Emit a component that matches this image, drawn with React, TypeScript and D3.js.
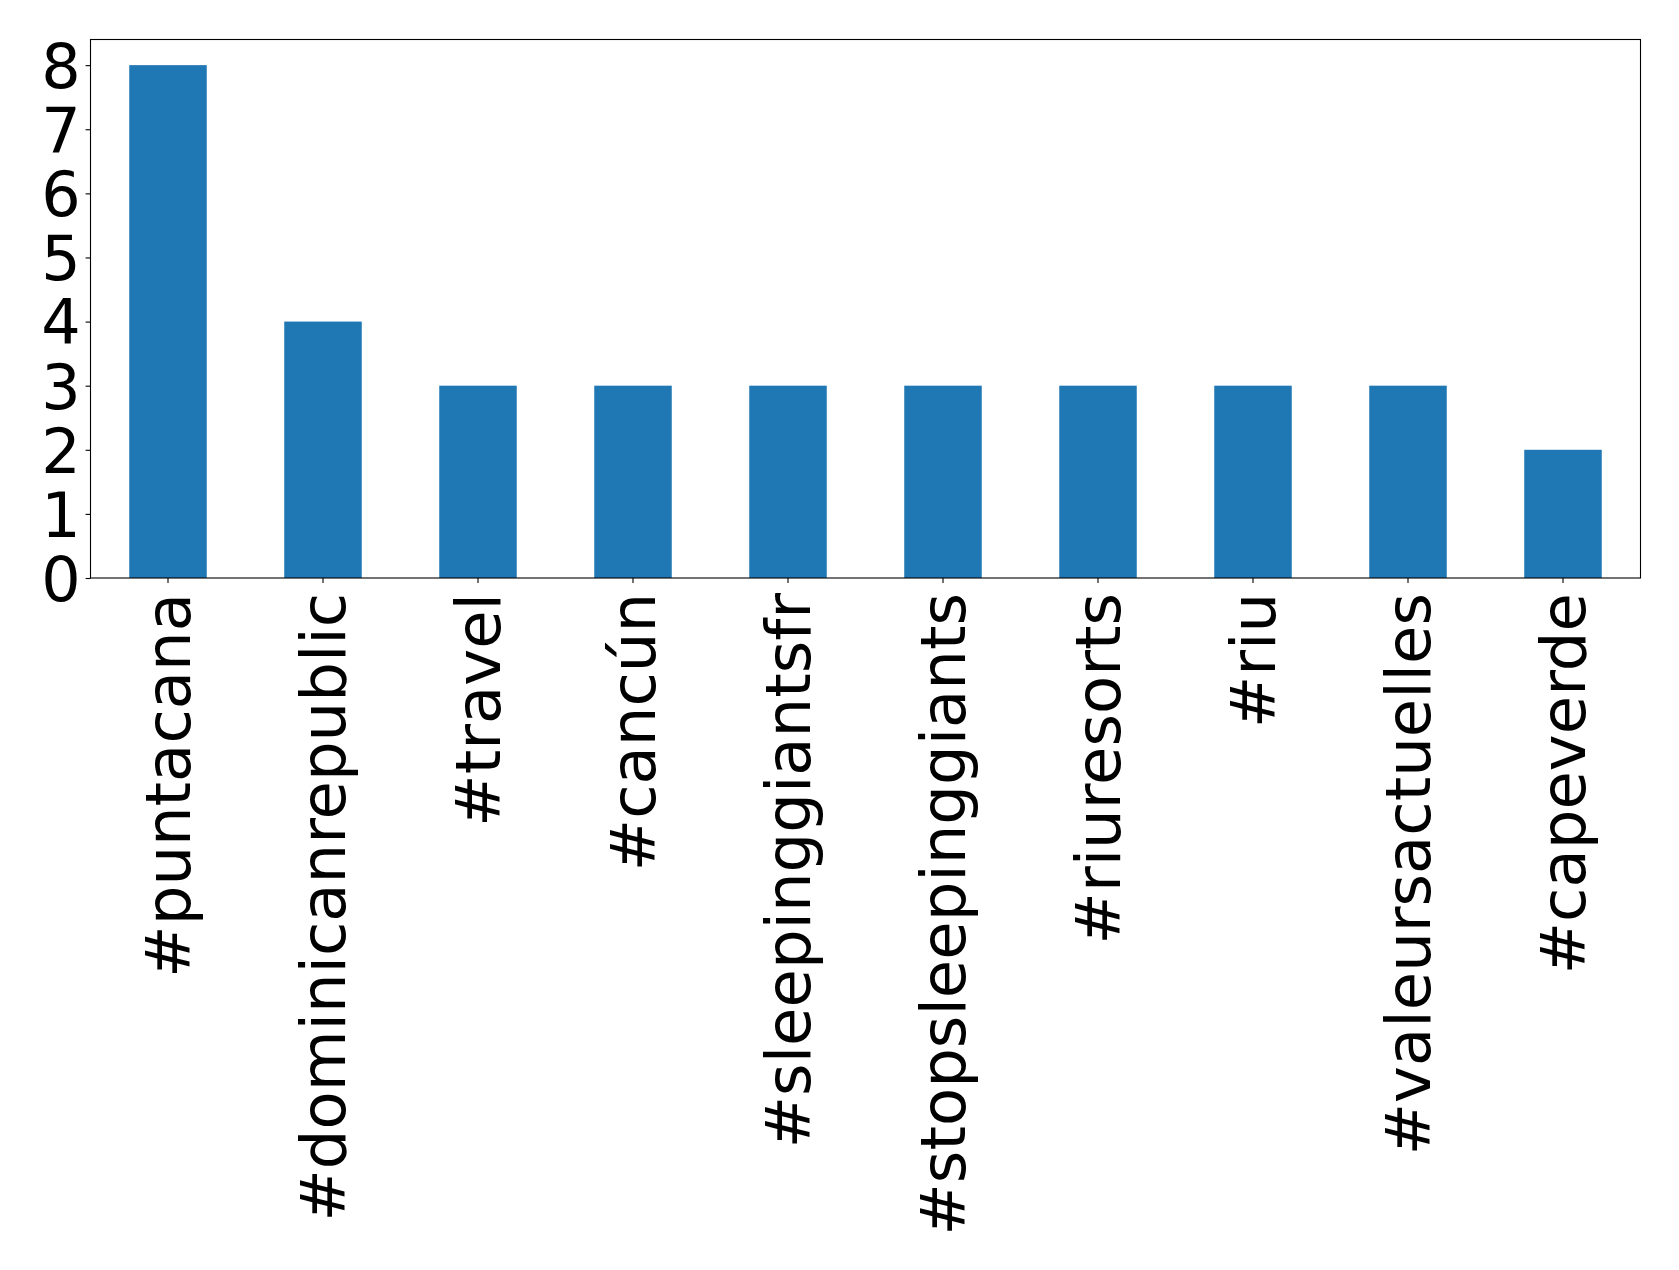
// Dependencies
import React, { useRef, useEffect } from "react";
import * as d3 from "d3";

// Chart data
const categories = [
  "#puntacana",
  "#dominicanrepublic",
  "#travel",
  "#cancún",
  "#sleepinggiantsfr",
  "#stopsleepinggiants",
  "#riuresorts",
  "#riu",
  "#valeursactuelles",
  "#capeverde",
];
const counts = [8, 4, 3, 3, 3, 3, 3, 3, 3, 2];
const yTicks = [0, 1, 2, 3, 4, 5, 6, 7, 8];

const WIDTH = 1679;
const HEIGHT = 1270;
const Y_FONT = 62;
const X_FONT = 62.5;

const App: React.FC = () => {
  const chartRef = useRef<SVGSVGElement | null>(null);

  useEffect(() => {
    if (!chartRef.current) return;

    const margin = { top: 39.5, right: 38.5, bottom: 692, left: 90.5 };
    const chartWidth = WIDTH - margin.left - margin.right;
    const chartHeight = HEIGHT - margin.top - margin.bottom;

    const svg = d3.select(chartRef.current);
    svg.selectAll("*").remove();

    const g = svg
      .append("g")
      .attr("transform", `translate(${margin.left},${margin.top})`);

    // Scales (matplotlib style: bars at integer positions, width 0.5)
    const xScale = d3
      .scaleLinear()
      .domain([-0.5, categories.length - 0.5])
      .range([0, chartWidth]);
    const yScale = d3
      .scaleLinear()
      .domain([0, d3.max(counts)! * 1.05])
      .range([chartHeight, 0]);

    // Bars
    g.append("g")
      .attr("class", "bars")
      .selectAll("rect")
      .data(counts)
      .join("rect")
      .attr("x", (_d, i) => xScale(i - 0.25))
      .attr("width", (_d, i) => xScale(i + 0.25) - xScale(i - 0.25))
      .attr("y", (d) => yScale(d))
      .attr("height", (d) => yScale(0) - yScale(d))
      .attr("fill", "#1f77b4");

    // Frame
    g.append("rect")
      .attr("x", 0)
      .attr("y", 0)
      .attr("width", chartWidth)
      .attr("height", chartHeight)
      .attr("fill", "none")
      .attr("stroke", "black")
      .attr("stroke-width", 1.1);

    // Y axis
    const yAxis = d3
      .axisLeft(yScale)
      .tickValues(yTicks)
      .tickFormat(d3.format("d"))
      .tickSize(4.9)
      .tickPadding(4.9);
    const yG = g.append("g").attr("class", "y-axis").call(yAxis);
    yG.select(".domain").remove();
    yG.selectAll("line").attr("stroke", "black").attr("stroke-width", 1.1);
    yG.selectAll("text")
      .attr("font-family", "DejaVu Sans")
      .attr("font-size", Y_FONT)
      .attr("fill", "black")
      .attr("dy", "0.36em");

    // X axis ticks
    const xG = g
      .append("g")
      .attr("class", "x-axis")
      .attr("transform", `translate(0,${chartHeight})`);
    xG.selectAll("line")
      .data(categories)
      .join("line")
      .attr("x1", (_d, i) => xScale(i))
      .attr("x2", (_d, i) => xScale(i))
      .attr("y1", 0)
      .attr("y2", 4.9)
      .attr("stroke", "black")
      .attr("stroke-width", 1.1);

    // X labels, rotated 90deg
    xG.selectAll("text")
      .data(categories)
      .join("text")
      .attr(
        "transform",
        (_d, i) => `translate(${xScale(i) + X_FONT * 0.345},${15}) rotate(-90)`
      )
      .attr("text-anchor", "end")
      .attr("font-family", "DejaVu Sans")
      .attr("font-size", X_FONT)
      .attr("fill", "black")
      .text((d) => d);
  }, []);

  return (
    <svg
      ref={chartRef}
      width={WIDTH}
      height={HEIGHT}
      style={{ position: "absolute", left: 0, top: 0, background: "white" }}
    />
  );
};

export default App;
